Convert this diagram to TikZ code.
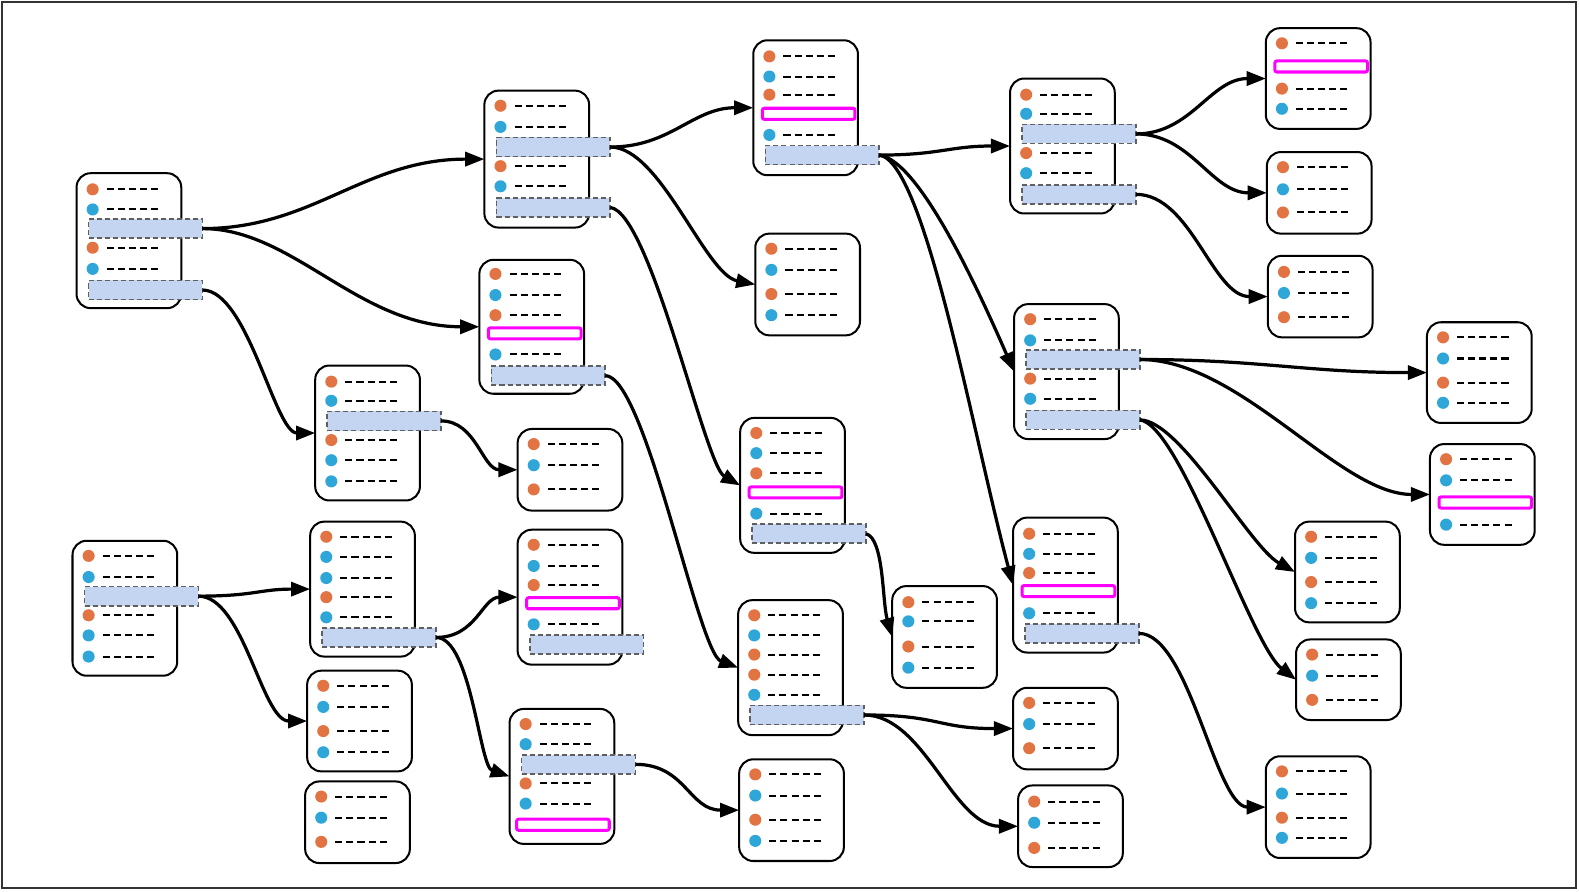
\documentclass[tikz,border=0pt]{standalone}
\usetikzlibrary{arrows.meta}
\definecolor{orng}{HTML}{E27444}
\definecolor{blu}{HTML}{2EA6D8}
\definecolor{barfill}{HTML}{C3D5F1}
\definecolor{bargray}{HTML}{606060}
\definecolor{mag}{HTML}{FF00FF}
\tikzset{
  boxst/.style={draw=black, line width=2pt, rounded corners=14pt, minimum width=104pt, inner sep=0pt, outer sep=0pt, fill=white},
  dsh/.style={line width=2pt, dash pattern=on 7pt off 4pt, black},
  barst/.style={draw=bargray, fill=barfill, line width=1.6pt, dash pattern=on 5pt off 3pt, minimum width=113pt, minimum height=19pt, inner sep=0pt, outer sep=0pt},
  mgst/.style={draw=mag, line width=3pt, rounded corners=2pt, minimum width=92pt, minimum height=11pt, inner sep=0pt, outer sep=0pt},
  edge/.style={line width=3.2pt, -{Triangle[length=19pt,width=14pt]}},
}
\newcommand\mkbox[4]{\node[boxst, minimum height=#4pt, anchor=north west] (#1) at (#2,#3) {};}
\newcommand\orow[2]{\fill[orng] (#1+16,#2) circle (6pt); \draw[dsh] (#1+30,#2) -- (#1+83,#2);}
\newcommand\brow[2]{\fill[blu] (#1+16,#2) circle (6pt); \draw[dsh] (#1+30,#2) -- (#1+83,#2);}
\newcommand\hbr[3]{\node[barst, anchor=west] (#1) at (#2+12,#3) {};}
\newcommand\mgr[3]{\node[mgst, anchor=west] (#1) at (#2+9,#3) {};}
\begin{document}
\begin{tikzpicture}[x=1pt,y=-1pt]
\useasboundingbox (0,0) rectangle (1568,885);
\draw[line width=2.2pt, black!80] (2,2) rectangle (1565,882);
% N1
\mkbox{n1}{76}{172}{134}
\orow{76}{188}\brow{76}{208}\orow{76}{246}\brow{76}{267}
\hbr{b1a}{76}{227}\hbr{b1b}{76}{288}
% N2
\mkbox{n2}{481}{90}{136}
\orow{481}{105}\brow{481}{126}\orow{481}{165}\brow{481}{185}
\hbr{b2a}{481}{146}\hbr{b2b}{481}{206}
% N3
\mkbox{n3}{748}{40}{134}
\orow{748}{56}\brow{748}{76}\orow{748}{94}\mgr{m3}{748}{113}\brow{748}{134}
\hbr{b3a}{748}{154}
% N4
\mkbox{n4}{1003}{78}{134}
\orow{1003}{94}\brow{1003}{113}\orow{1003}{152}\brow{1003}{172}
\hbr{b4a}{1003}{133}\hbr{b4b}{1003}{193}
% N5
\mkbox{n5}{1257}{28}{100}
\orow{1257}{43}\mgr{m5}{1257}{66}\orow{1257}{88}\brow{1257}{108}
% N6
\mkbox{n6}{1258}{151}{81}
\orow{1258}{166}\brow{1258}{188}\orow{1258}{211}
% N7
\mkbox{n7}{1259}{254}{81}
\orow{1259}{270}\brow{1259}{291}\orow{1259}{315}
% N8
\mkbox{n8}{750}{232}{101}
\orow{750}{247}\brow{750}{268}\orow{750}{292}\brow{750}{313}
% N9
\mkbox{n9}{476}{258}{133}
\orow{476}{272}\brow{476}{293}\orow{476}{313}\mgr{m9}{476}{331}\brow{476}{352}
\hbr{b9a}{476}{373}
% N10
\mkbox{n10}{1007}{302}{134}
\orow{1007}{317}\brow{1007}{338}\orow{1007}{376}\brow{1007}{396}
\hbr{b10a}{1007}{357}\hbr{b10b}{1007}{417}
% N11
\mkbox{n11}{1417}{320}{100}
\orow{1417}{335}\brow{1417}{356}\orow{1417}{380}\brow{1417}{400}
% N12
\mkbox{n12}{1420}{441}{100}
\orow{1420}{456}\brow{1420}{477}\mgr{m12}{1420}{499}\brow{1420}{521}
% N13
\mkbox{n13}{313}{363}{134}
\orow{313}{379}\brow{313}{398}\orow{313}{437}\brow{313}{457}\brow{313}{478}
\hbr{b13a}{313}{418}
% N14
\mkbox{n14}{514}{426}{81}
\orow{514}{441}\brow{514}{462}\orow{514}{486}
% N15
\mkbox{n15}{735}{415}{134}
\orow{735}{430}\brow{735}{450}\orow{735}{470}\mgr{m15}{735}{489}\brow{735}{510}
\hbr{b15a}{735}{530}
% N16
\mkbox{n16}{1286}{518}{100}
\orow{1286}{533}\brow{1286}{554}\orow{1286}{578}\brow{1286}{599}
% N17
\mkbox{n17}{1006}{514}{134}
\orow{1006}{530}\brow{1006}{550}\orow{1006}{569}\mgr{m17}{1006}{587}\brow{1006}{609}
\hbr{b17a}{1006}{629}
% N18
\mkbox{n18}{72}{537}{134}
\orow{72}{552}\brow{72}{573}\orow{72}{611}\brow{72}{631}\brow{72}{652}
\hbr{b18a}{72}{592}
% N19
\mkbox{n19}{308}{518}{134}
\orow{308}{533}\brow{308}{553}\brow{308}{574}\orow{308}{593}\brow{308}{613}
\hbr{b19a}{308}{633}
% N20
\mkbox{n20}{514}{526}{134}
\orow{514}{541}\brow{514}{562}\orow{514}{581}\mgr{m20}{514}{599}\brow{514}{620}
\hbr{b20a}{514}{640}
% N21
\mkbox{n21}{886}{582}{101}
\orow{886}{598}\brow{886}{617}\orow{886}{642}\brow{886}{663}
% N22
\mkbox{n22}{733}{596}{134}
\orow{733}{611}\brow{733}{631}\orow{733}{650}\orow{733}{670}\brow{733}{690}
\hbr{b22a}{733}{710}
% N23
\mkbox{n23}{1287}{635}{80}
\orow{1287}{650}\brow{1287}{671}\orow{1287}{695}
% N24
\mkbox{n24}{305}{666}{100}
\orow{305}{681}\brow{305}{702}\orow{305}{726}\brow{305}{747}
% N25
\mkbox{n25}{506}{704}{134}
\orow{506}{719}\brow{506}{739}\orow{506}{778}\brow{506}{798}\mgr{m25}{504}{819}
\hbr{b25a}{506}{759}
% N26
\mkbox{n26}{1006}{683}{81}
\orow{1006}{698}\brow{1006}{719}\orow{1006}{743}
% N27
\mkbox{n27}{303}{776}{81}
\orow{303}{791}\brow{303}{812}\orow{303}{836}
% N28
\mkbox{n28}{734}{754}{101}
\orow{734}{769}\brow{734}{790}\orow{734}{814}\brow{734}{835}
% N29
\mkbox{n29}{1011}{780}{81}
\orow{1011}{796}\brow{1011}{817}\orow{1011}{842}
% N30
\mkbox{n30}{1257}{751}{101}
\orow{1257}{766}\brow{1257}{788}\orow{1257}{812}\brow{1257}{832}
% edges
\draw[edge] (b1a.east) .. controls +(110,0) and +(-120,0) .. (n2.west);
\draw[edge] (b1a.east) .. controls +(90,0) and +(-120,0) .. (n9.west);
\draw[edge] (b1b.east) .. controls +(45,0) and +(-40,0) .. (n13.west);
\draw[edge] (b2a.east) .. controls +(60,0) and +(-60,0) .. (n3.west);
\draw[edge] (b2a.east) .. controls +(50,0) and +(-50,-10) .. (n8.west);
\draw[edge] (b2b.east) .. controls +(40,5) and +(-35,-20) .. (n15.west);
\draw[edge] (b3a.east) .. controls +(60,0) and +(-60,0) .. (n4.west);
\draw[edge] (b3a.east) .. controls +(40,5) and +(-35,-80) .. (n10.west);
\draw[edge] (b3a.east) .. controls +(45,5) and +(-40,-150) .. (n17.west);
\draw[edge] (b4a.east) .. controls +(55,0) and +(-55,0) .. (n5.west);
\draw[edge] (b4a.east) .. controls +(55,0) and +(-55,0) .. (n6.west);
\draw[edge] (b4b.east) .. controls +(55,0) and +(-55,0) .. (n7.west);
\draw[edge] (b9a.east) .. controls +(40,0) and +(-40,-15) .. (n22.west);
\draw[edge] (b10a.east) .. controls +(120,0) and +(-120,0) .. (n11.west);
\draw[edge] (b10a.east) .. controls +(100,0) and +(-90,0) .. (n12.west);
\draw[edge] (b10b.east) .. controls +(40,0) and +(-45,-25) .. (n16.west);
\draw[edge] (b10b.east) .. controls +(40,5) and +(-45,-35) .. (n23.west);
\draw[edge] (b13a.east) .. controls +(35,0) and +(-35,0) .. (n14.west);
\draw[edge] (b15a.east) .. controls +(18,5) and +(-10,-35) .. (n21.west);
\draw[edge] (b17a.east) .. controls +(50,0) and +(-50,0) .. (n30.west);
\draw[edge] (b18a.east) .. controls +(55,0) and +(-50,0) .. (n19.west);
\draw[edge] (b18a.east) .. controls +(45,0) and +(-45,0) .. (n24.west);
\draw[edge] (b19a.east) .. controls +(40,0) and +(-35,0) .. (n20.west);
\draw[edge] (b19a.east) .. controls +(35,0) and +(-30,-10) .. (n25.west);
\draw[edge] (b22a.east) .. controls +(75,0) and +(-75,0) .. (n26.west);
\draw[edge] (b22a.east) .. controls +(60,0) and +(-65,0) .. (n29.west);
\draw[edge] (b25a.east) .. controls +(50,0) and +(-50,0) .. (n28.west);
\end{tikzpicture}
\end{document}
